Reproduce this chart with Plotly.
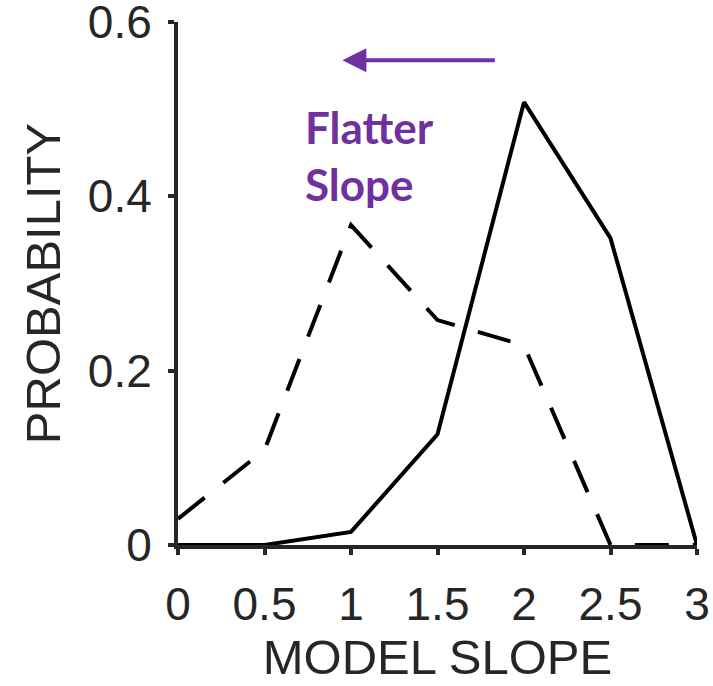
import plotly.graph_objects as go

slope = [0, 0.5, 1, 1.5, 2, 2.5, 3]
prob_solid = [0, 0, 0.015, 0.127, 0.508, 0.352, 0]
prob_dashed = [0.03, 0.109, 0.367, 0.258, 0.229, 0, 0]

x_ticks = [0, 0.5, 1, 1.5, 2, 2.5, 3]
x_tick_text = ["0", "0.5", "1", "1.5", "2", "2.5", "3"]
y_ticks = [0, 0.2, 0.4, 0.6]
y_tick_text = ["0", "0.2", "0.4", "0.6"]

axis_color = "#262626"
purple = "#7030A0"

fig = go.Figure()
fig.add_trace(go.Scatter(x=slope, y=prob_dashed, mode="lines",
                         line=dict(color="black", width=4, dash="34px,24px"),
                         showlegend=False))
fig.add_trace(go.Scatter(x=slope, y=prob_solid, mode="lines",
                         line=dict(color="black", width=4),
                         showlegend=False))

font_tick = dict(family="Liberation Sans, Arial, sans-serif", size=46, color=axis_color)
font_title = dict(family="Liberation Sans, Arial, sans-serif", size=49, color=axis_color)

fig.update_layout(
    width=713, height=686,
    margin=dict(l=178, r=16, t=22, b=141),
    paper_bgcolor="white", plot_bgcolor="white",
    xaxis=dict(range=[0, 3], tickvals=x_ticks, ticktext=x_tick_text,
               showgrid=False, zeroline=False, showline=True, automargin=False,
               linecolor=axis_color, linewidth=4,
               ticks="outside", ticklen=6, tickwidth=4, tickcolor=axis_color,
               tickfont=font_tick, ticklabelstandoff=10, ticklabeloverflow="allow",
               title=dict(text="MODEL SLOPE", font=font_title, standoff=2)),
    yaxis=dict(range=[0, 0.6], tickvals=y_ticks, ticktext=y_tick_text,
               showgrid=False, zeroline=False, showline=True, automargin=False,
               linecolor=axis_color, linewidth=4,
               ticks="outside", ticklen=6, tickwidth=4, tickcolor=axis_color,
               tickfont=font_tick, ticklabelstandoff=7, ticklabeloverflow="allow",
               title=dict(text="PROBABILITY", font=font_title, standoff=13)),
)

fig.add_annotation(x=0.95, y=0.556, ax=1.84, ay=0.556, xref="x", yref="y",
                   axref="x", ayref="y", text="", showarrow=True,
                   arrowhead=2, arrowsize=1.2, arrowwidth=4, arrowcolor=purple)
fig.add_annotation(x=0.72, y=0.447, xref="x", yref="y", xanchor="left", yanchor="middle",
                   text="<b>Flatter<br>Slope</b>", showarrow=False, align="left",
                   font=dict(family="Lato, Open Sans, sans-serif", size=44, color=purple))

fig.write_html("out.html", config={"displayModeBar": False},
               post_script="document.body.style.margin='0';")
